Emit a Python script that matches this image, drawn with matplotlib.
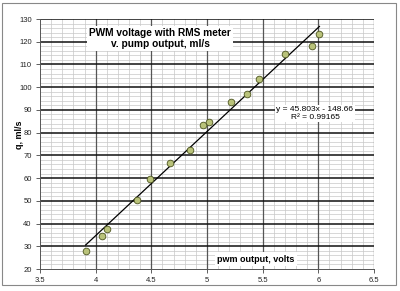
import numpy as np
import matplotlib.pyplot as plt
from matplotlib.patches import Rectangle

# pwm output (volts) vs pump output (ml/s)
volts = [3.91, 4.06, 4.10, 4.37, 4.49, 4.67, 4.85, 4.96, 5.02, 5.22, 5.36, 5.47, 5.70, 5.94, 6.01]
flow = [28.1, 34.7, 37.6, 50.3, 59.8, 66.8, 72.3, 83.2, 84.6, 93.5, 97.1, 103.5, 114.5, 118.2, 123.2]

xticks = [3.5, 4.0, 4.5, 5.0, 5.5, 6.0, 6.5]
xticklabels = ['3.5', '4', '4.5', '5', '5.5', '6', '6.5']
yticks = [20, 30, 40, 50, 60, 70, 80, 90, 100, 110, 120, 130]

title = "PWM voltage with RMS meter\nv. pump output, ml/s"
eq_text = "y = 45.803x - 148.66\nR² = 0.99165"
xlabel = "pwm output, volts"
ylabel = "q, ml/s"

plt.rcParams['font.family'] = ['Liberation Sans', 'DejaVu Sans']

fig = plt.figure(figsize=(4, 2.91), dpi=100)
ax = fig.add_axes([0.1, 0.0756, 0.835, 0.859])

# outer chart frame
fig.patches.append(Rectangle((0.005, 0.022), 0.985, 0.968, transform=fig.transFigure,
                             fill=False, edgecolor='#888888', linewidth=0.8))

ax.set_xlim(3.5, 6.5)
ax.set_ylim(20, 130)
ax.set_xticks(xticks)
ax.set_xticklabels(xticklabels)
ax.set_yticks(yticks)
ax.xaxis.set_minor_locator(plt.MultipleLocator(0.1))
ax.yaxis.set_minor_locator(plt.MultipleLocator(2))
ax.tick_params(which='minor', length=0)
ax.tick_params(which='major', length=3, width=0.6, color='#444444',
               labelsize=5.5, pad=3, labelcolor='#222222')

ax.grid(which='minor', color='#c8c8c8', linewidth=0.5)
ax.set_axisbelow(True)
# major grid drawn over the minor grid
for xv in xticks[1:]:
    ax.axvline(xv, color='#555555', linewidth=0.9, zorder=1)
for yv in yticks[1:]:
    ax.axhline(yv, color='#111111', linewidth=1.1, zorder=1.1)

for s in ['top', 'right']:
    ax.spines[s].set_visible(False)
for s in ['left', 'bottom']:
    ax.spines[s].set_color('#555555')
    ax.spines[s].set_linewidth(0.7)

# linear trendline
k, b = np.polyfit(volts, flow, 1)
xs = np.array([min(volts), max(volts)])
ax.plot(xs, k * xs + b, color='black', linewidth=0.9, zorder=3)

ax.plot(volts, flow, 'o', markersize=4.8, markerfacecolor='#b9c27a',
        markeredgecolor='#4d5520', markeredgewidth=0.6, zorder=4)

box = dict(facecolor='white', edgecolor='none', pad=1.5)
ax.text(4.58, 121.5, title, ha='center', va='center', fontsize=7.3,
        fontweight='bold', linespacing=1.15, bbox=box, zorder=5)
ax.text(5.97, 88.4, eq_text, ha='center', va='center', fontsize=6,
        linespacing=1.2, bbox=dict(facecolor='white', edgecolor='none', pad=1.0), zorder=5)
ax.text(5.44, 24.4, xlabel, ha='center', va='center', fontsize=6.5,
        fontweight='bold', bbox=box, zorder=5)
fig.text(0.05, 0.536, ylabel, rotation=90, ha='center', va='center',
         fontsize=6.5, fontweight='bold')

fig.savefig('out.png', dpi=100)
